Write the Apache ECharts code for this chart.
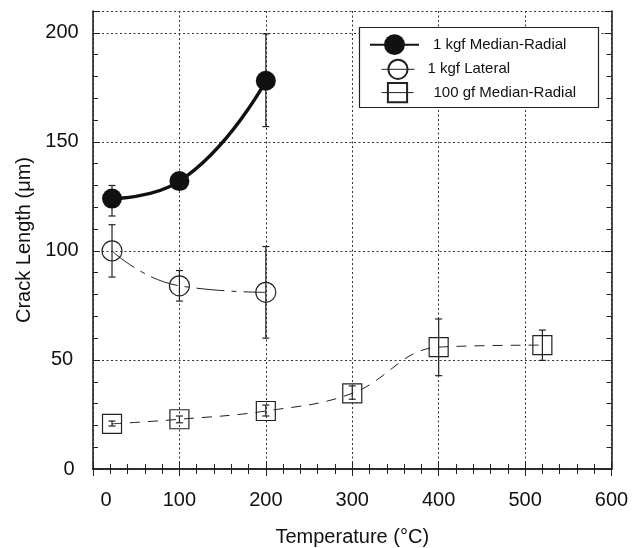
<!DOCTYPE html>
<html>
<head>
<meta charset="utf-8">
<script src="https://cdn.jsdelivr.net/npm/echarts@6/dist/echarts.min.js"></script>
<style>
html,body{margin:0;padding:0;background:#fff;}
#chart{width:639px;height:548px;}
</style>
</head>
<body>
<div id="chart"></div>
<script>
// ---- data ----
const seriesNames = ['1 kgf Median-Radial', '1 kgf Lateral', '100 gf Median-Radial'];

const temps1kgf = [22, 100, 200];
const medianRadial1kgf = [124, 132, 178];
const medianRadial1kgfLow = [116, 129, 157];
const medianRadial1kgfHigh = [130, 135, 199.5];

const lateral1kgf = [100, 84, 81];
const lateral1kgfLow = [88, 77, 60];
const lateral1kgfHigh = [112, 91, 102];

const temps100gf = [22, 100, 200, 300, 400, 520];
const medianRadial100gf = [20.7, 22.8, 26.6, 34.7, 55.9, 56.8];
const medianRadial100gfLow = [19.7, 21.2, 24.3, 32, 42.8, 49.8];
const medianRadial100gfHigh = [22, 24.3, 29.3, 38.1, 68.8, 63.7];

const xTicks = [0, 100, 200, 300, 400, 500, 600];
const yTicks = [0, 50, 100, 150, 200];

// ---- build ----
const FONT = 'Liberation Sans, Arial, Helvetica, sans-serif';
const pairs = (xs, ys) => xs.map((x, i) => [x, ys[i]]);
const triples = (xs, lo, hi) => xs.map((x, i) => [x, lo[i], hi[i]]);

function errorBarSeries(data) {
  return {
    type: 'custom',
    xAxisIndex: 0, yAxisIndex: 0,
    z: 1,
    silent: true,
    data: data,
    renderItem: function (params, api) {
      const x = api.value(0);
      const pLo = api.coord([x, api.value(1)]);
      const pHi = api.coord([x, api.value(2)]);
      const w = 3.5;
      const st = { stroke: '#222', lineWidth: 1.2 };
      return {
        type: 'group',
        children: [
          { type: 'line', shape: { x1: pLo[0], y1: pLo[1], x2: pHi[0], y2: pHi[1] }, style: st },
          { type: 'line', shape: { x1: pLo[0] - w, y1: pLo[1], x2: pLo[0] + w, y2: pLo[1] }, style: st },
          { type: 'line', shape: { x1: pHi[0] - w, y1: pHi[1], x2: pHi[0] + w, y2: pHi[1] }, style: st }
        ]
      };
    }
  };
}

const xMin = xTicks[0], xMax = xTicks[xTicks.length - 1];
const xInterval = xTicks[1] - xTicks[0];
const yMin = yTicks[0], yMax = 210;
const yInterval = yTicks[1] - yTicks[0];

const gridLine = { show: true, lineStyle: { color: '#333', width: 1, type: [2, 2.5] } };
const axisLineStyle = { show: true, lineStyle: { color: '#222', width: 1.6 } };

const chart = echarts.init(document.getElementById('chart'), null, { renderer: 'canvas' });

const legendCommon = {
  orient: 'horizontal',
  padding: 0,
  selectedMode: false,
  z: 10,
  textStyle: { fontFamily: FONT, fontSize: 15, color: '#111' }
};

chart.setOption({
  animation: false,
  backgroundColor: '#fff',
  grid: { left: 93, right: 27.5, top: 11, bottom: 79, containLabel: false, outerBoundsMode: 'none' },
  xAxis: [
    {
      type: 'value', position: 'bottom', min: xMin, max: xMax, interval: xInterval,
      name: 'Temperature (°C)', nameLocation: 'middle', nameGap: 58,
      nameTextStyle: { fontFamily: FONT, fontSize: 20, color: '#111' },
      axisLine: axisLineStyle,
      axisTick: { show: true, inside: true, length: 7, lineStyle: { color: '#222' } },
      minorTick: { show: true, splitNumber: 5, length: 5, lineStyle: { color: '#222' } },
      axisLabel: {
        fontFamily: FONT, fontSize: 20, color: '#111', margin: 21,
        formatter: v => v === 0 ? '{z|0}' : String(v),
        rich: { z: { fontFamily: FONT, fontSize: 20, color: '#111', padding: [0, 0, 0, 26] } }
      },
      splitLine: gridLine
    },
    {
      type: 'value', position: 'top', min: xMin, max: xMax, interval: xInterval,
      axisLine: axisLineStyle,
      axisTick: { show: true, inside: true, length: 7, lineStyle: { color: '#222' } },
      minorTick: { show: true, splitNumber: 5, length: 5, lineStyle: { color: '#222' } },
      axisLabel: { show: false },
      splitLine: { show: false }
    }
  ],
  yAxis: [
    {
      type: 'value', position: 'left', min: yMin, max: yMax, interval: yInterval,
      name: 'Crack Length (μm)', nameLocation: 'middle', nameGap: 58,
      nameTextStyle: { fontFamily: FONT, fontSize: 20, color: '#111' },
      axisLine: axisLineStyle,
      axisTick: { show: true, inside: true, length: 7, lineStyle: { color: '#222' } },
      axisLabel: {
        fontFamily: FONT, fontSize: 20, color: '#111', margin: 31, align: 'center',
        formatter: v => (v % yInterval === 0 ? (v === 0 ? '{z|0}' : String(v)) : ''),
        rich: { z: { fontFamily: FONT, fontSize: 20, color: '#111', padding: [0, 0, 0, 14] } }
      },
      splitLine: gridLine
    },
    {
      type: 'value', position: 'left', min: yMin, max: yMax, interval: 10,
      axisLine: { show: false },
      axisTick: { show: true, inside: true, length: 5, lineStyle: { color: '#222' } },
      axisLabel: { show: false },
      splitLine: { show: false }
    },
    {
      type: 'value', position: 'right', min: yMin, max: yMax, interval: yInterval,
      axisLine: axisLineStyle,
      axisTick: { show: true, inside: true, length: 7, lineStyle: { color: '#222' } },
      axisLabel: { show: false },
      splitLine: { show: false }
    },
    {
      type: 'value', position: 'right', min: yMin, max: yMax, interval: 10,
      axisLine: { show: false },
      axisTick: { show: true, inside: true, length: 5, lineStyle: { color: '#222' } },
      axisLabel: { show: false },
      splitLine: { show: false }
    }
  ],
  graphic: [
    {
      type: 'rect', z: 3, silent: true,
      shape: { x: 359.5, y: 27.5, width: 239, height: 80 },
      style: { fill: '#fff', stroke: '#222', lineWidth: 1.2 }
    }
  ],
  legend: [
    Object.assign({}, legendCommon, {
      data: [seriesNames[0]], left: 369, top: 34.3, itemWidth: 49, itemHeight: 26,
      lineStyle: { width: 2 },
      textStyle: Object.assign({}, legendCommon.textStyle, { padding: [0, 0, 0, 9] })
    }),
    Object.assign({}, legendCommon, {
      data: [seriesNames[1]], left: 381, top: 58.7, itemWidth: 33, itemHeight: 24,
      lineStyle: { type: 'solid', width: 1 },
      textStyle: Object.assign({}, legendCommon.textStyle, { padding: [0, 0, 0, 8] })
    }),
    Object.assign({}, legendCommon, {
      data: [seriesNames[2]], left: 381, top: 82, itemWidth: 32, itemHeight: 24,
      lineStyle: { type: 'solid', width: 1 },
      textStyle: Object.assign({}, legendCommon.textStyle, { padding: [0, 0, 0, 15] })
    })
  ],
  series: [
    errorBarSeries(triples(temps1kgf, medianRadial1kgfLow, medianRadial1kgfHigh)),
    errorBarSeries(triples(temps1kgf, lateral1kgfLow, lateral1kgfHigh)),
    errorBarSeries(triples(temps100gf, medianRadial100gfLow, medianRadial100gfHigh)),
    {
      name: seriesNames[0], type: 'line', xAxisIndex: 0, yAxisIndex: 0, z: 3,
      data: pairs(temps1kgf, medianRadial1kgf),
      smooth: 0.5,
      symbol: 'circle', symbolSize: 20,
      itemStyle: { color: '#111', borderColor: '#111', borderWidth: 0 },
      lineStyle: { color: '#111', width: 3.5 }
    },
    {
      name: seriesNames[1], type: 'line', xAxisIndex: 0, yAxisIndex: 0, z: 3,
      data: pairs(temps1kgf, lateral1kgf),
      smooth: 0.5,
      symbol: 'circle', symbolSize: 20,
      itemStyle: { color: 'transparent', borderColor: '#222', borderWidth: 1.2 },
      lineStyle: { color: '#222', width: 1, type: [28, 7, 5, 7] }
    },
    {
      name: seriesNames[2], type: 'line', xAxisIndex: 0, yAxisIndex: 0, z: 3,
      data: pairs(temps100gf, medianRadial100gf),
      smooth: 0.4,
      symbol: 'rect', symbolSize: 19,
      itemStyle: { color: 'transparent', borderColor: '#222', borderWidth: 1.2 },
      lineStyle: { color: '#222', width: 1, type: [10, 8] }
    }
  ]
});
</script>
</body>
</html>
